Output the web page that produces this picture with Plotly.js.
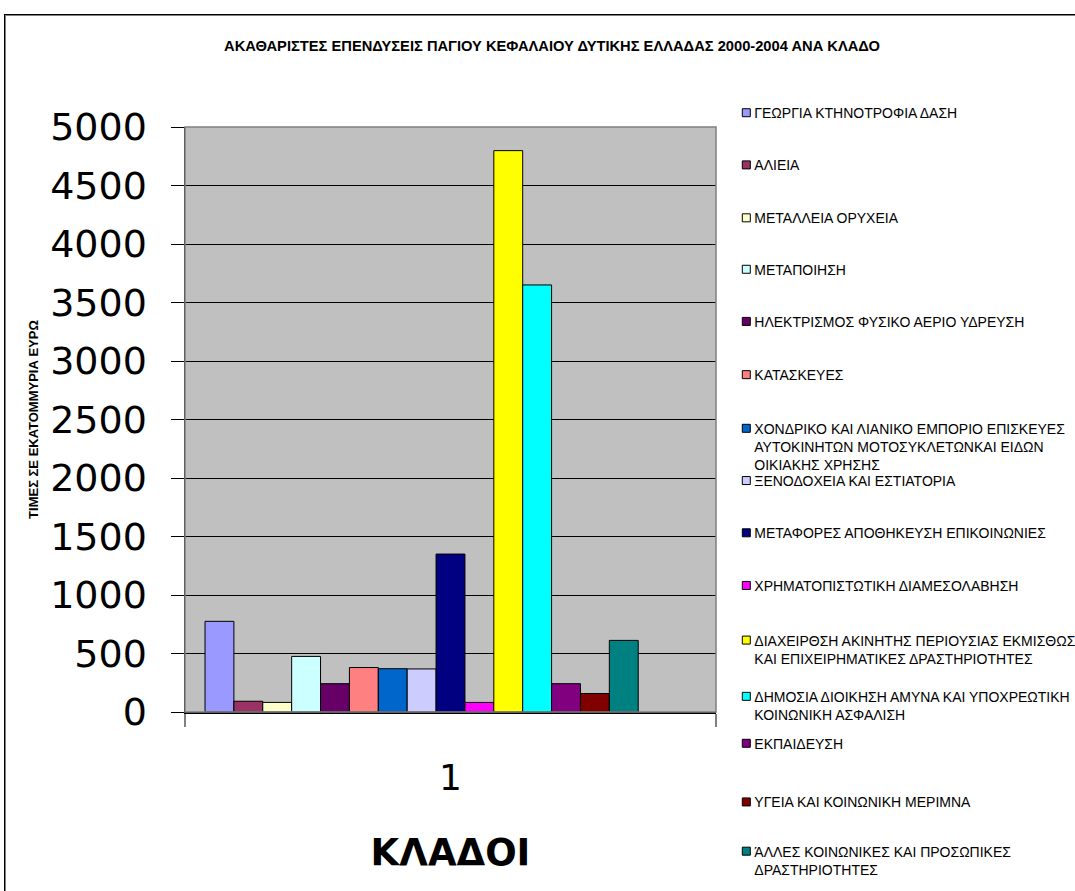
<!DOCTYPE html>
<html><head><meta charset="utf-8">
<script src="https://cdn.plot.ly/plotly-3.0.1.min.js"></script>
<style>
html,body{margin:0;padding:0;background:#fff;overflow:hidden;width:1075px;height:891px}
#frame{position:absolute;left:4px;top:14px;width:1100px;height:900px;border:1px solid #000;box-shadow:inset 1px 1px 0 #808080;}
#chart{position:absolute;left:0;top:0;width:1075px;height:891px}
</style></head><body>
<div id="frame"></div><div id="chart"></div>
<script>
// ---- data ----
const category = ['1'];
const sectors = [
  'ΓΕΩΡΓΙΑ ΚΤΗΝΟΤΡΟΦΙΑ ΔΑΣΗ',
  'ΑΛΙΕΙΑ',
  'ΜΕΤΑΛΛΕΙΑ ΟΡΥΧΕΙΑ',
  'ΜΕΤΑΠΟΙΗΣΗ',
  'ΗΛΕΚΤΡΙΣΜΟΣ ΦΥΣΙΚΟ ΑΕΡΙΟ ΥΔΡΕΥΣΗ',
  'ΚΑΤΑΣΚΕΥΕΣ',
  'ΧΟΝΔΡΙΚΟ ΚΑΙ ΛΙΑΝΙΚΟ ΕΜΠΟΡΙΟ ΕΠΙΣΚΕΥΕΣ<br>ΑΥΤΟΚΙΝΗΤΩΝ ΜΟΤΟΣΥΚΛΕΤΩΝΚΑΙ ΕΙΔΩΝ<br>ΟΙΚΙΑΚΗΣ ΧΡΗΣΗΣ',
  'ΞΕΝΟΔΟΧΕΙΑ ΚΑΙ ΕΣΤΙΑΤΟΡΙΑ',
  'ΜΕΤΑΦΟΡΕΣ ΑΠΟΘΗΚΕΥΣΗ ΕΠΙΚΟΙΝΩΝΙΕΣ',
  'ΧΡΗΜΑΤΟΠΙΣΤΩΤΙΚΗ ΔΙΑΜΕΣΟΛΑΒΗΣΗ',
  'ΔΙΑΧΕΙΡΘΣΗ ΑΚΙΝΗΤΗΣ ΠΕΡΙΟΥΣΙΑΣ ΕΚΜΙΣΘΩΣΗ<br>ΚΑΙ ΕΠΙΧΕΙΡΗΜΑΤΙΚΕΣ ΔΡΑΣΤΗΡΙΟΤΗΤΕΣ',
  'ΔΗΜΟΣΙΑ ΔΙΟΙΚΗΣΗ ΑΜΥΝΑ ΚΑΙ ΥΠΟΧΡΕΩΤΙΚΗ<br>ΚΟΙΝΩΝΙΚΗ ΑΣΦΑΛΙΣΗ',
  'ΕΚΠΑΙΔΕΥΣΗ',
  'ΥΓΕΙΑ ΚΑΙ ΚΟΙΝΩΝΙΚΗ ΜΕΡΙΜΝΑ',
  'ΆΛΛΕΣ ΚΟΙΝΩΝΙΚΕΣ ΚΑΙ ΠΡΟΣΩΠΙΚΕΣ<br>ΔΡΑΣΤΗΡΙΟΤΗΤΕΣ',
  '', ''   // two blank series in the source sheet
];
const values = [775, 92, 82, 475, 242, 380, 370, 368, 1350, 82, 4798, 3650, 242, 158, 612, null, null];
const tickLabelsY = ['0','500','1000','1500','2000','2500','3000','3500','4000','4500','5000'];

// ---- styles ----
const colors = ['#9999FF','#993366','#FFFFCC','#CCFFFF','#660066','#FF8080','#0066CC','#CCCCFF',
                '#000080','#FF00FF','#FFFF00','#00FFFF','#800080','#800000','#008080','#0000FF','#00CCFF'];
const legendCenterPx = [112.8,165,218,269.5,321.7,375,428.7,481,533.3,586,640.7,697,744,802.7,852];

const W = 1075, H = 891;
const M = {l:185, r:W-715.7, t:126.7, b:H-712.3};
const plotW = W - M.l - M.r, plotH = H - M.t - M.b;
const pxToPaperX = px => (px - M.l) / plotW;
const pxToPaperY = py => 1 - (py - M.t) / plotH;

const traces = sectors.map((name, i) => ({
  type: 'bar',
  x: category,
  y: [values[i]],
  name: name,
  marker: {color: colors[i], line: {color: '#000', width: 1}},
  showlegend: i < legendCenterPx.length,
  legend: i === 0 ? 'legend' : 'legend' + (i + 1),
  hoverinfo: 'skip'
}));

const layout = {
  width: W, height: H, autosize: false,
  showlegend: true,
  margin: {l: M.l, r: M.r, t: M.t, b: M.b, pad: 0, autoexpand: false},
  paper_bgcolor: 'rgba(0,0,0,0)',
  plot_bgcolor: '#C0C0C0',
  barmode: 'group', bargap: 0.0754, bargroupgap: 0,
  font: {family: 'Liberation Sans, Arial, sans-serif', color: '#000'},
  title: {
    text: 'ΑΚΑΘΑΡΙΣΤΕΣ ΕΠΕΝΔΥΣΕΙΣ ΠΑΓΙΟΥ ΚΕΦΑΛΑΙΟΥ ΔΥΤΙΚΗΣ ΕΛΛΑΔΑΣ 2000-2004 ΑΝΑ ΚΛΑΔΟ',
    font: {family: 'Liberation Sans, Arial, sans-serif', size: 14.7, weight: 700, color: '#000'},
    x: 552 / W, xref: 'container', xanchor: 'center',
    y: 1 - 46 / H, yref: 'container', yanchor: 'middle'
  },
  xaxis: {
    type: 'category', range: [-0.5, 0.5],
    showline: true, linecolor: '#000', linewidth: 1.5,
    ticks: 'outside', tickson: 'boundaries', ticklen: 13, tickcolor: '#808080', tickwidth: 1.5,
    tickfont: {family: 'DejaVu Sans, sans-serif', size: 36, color: '#000'},
    ticklabelstandoff: 33,
    showgrid: false, zeroline: false, fixedrange: true,
    title: {text: 'ΚΛΑΔΟΙ', font: {family: 'DejaVu Sans, sans-serif', size: 37, weight: 700, color: '#000'}, standoff: 42}
  },
  yaxis: {
    range: [0, 5000], tickmode: 'array',
    tickvals: tickLabelsY.map(Number), ticktext: tickLabelsY,
    showgrid: true, gridcolor: '#000', gridwidth: 1,
    ticks: 'outside', ticklen: 13, tickcolor: '#000', tickwidth: 1,
    showline: true, linecolor: '#000', linewidth: 1.5, zeroline: false,
    tickfont: {family: 'DejaVu Sans, sans-serif', size: 38, color: '#000'},
    ticklabelstandoff: 16, fixedrange: true,
    title: {text: 'ΤΙΜΕΣ ΣΕ ΕΚΑΤΟΜΜΥΡΙΑ ΕΥΡΩ', font: {family: 'Liberation Sans, Arial, sans-serif', size: 13, weight: 700, color: '#000'}, standoff: 8}
  },
  shapes: [{type: 'rect', xref: 'paper', yref: 'paper', x0: 0, x1: 1, y0: 0, y1: 1,
            line: {color: '#808080', width: 1.5}, layer: 'above'}]
};

legendCenterPx.forEach((cy, i) => {
  layout[i === 0 ? 'legend' : 'legend' + (i + 1)] = {
    x: pxToPaperX(714), xanchor: 'left',
    y: pxToPaperY(cy - 16), yanchor: 'top',
    bgcolor: 'rgba(0,0,0,0)', borderwidth: 0,
    font: {family: 'Liberation Sans, Arial, sans-serif', size: 14, color: '#000'},
    valign: 'top', itemclick: false, itemdoubleclick: false
  };
});

Plotly.newPlot('chart', traces, layout, {displayModeBar: false, staticPlot: true}).then(gd => {
  // smaller legend swatches, placed closer to the text as in the original
  gd.querySelectorAll('.legendpoints path').forEach(p => {
    p.setAttribute('d', 'M4,4H-4V-4H4Z');
    const t = p.getAttribute('transform') || '';
    p.setAttribute('transform', t + ' translate(12,0)');
  });
});
</script>
</body></html>
